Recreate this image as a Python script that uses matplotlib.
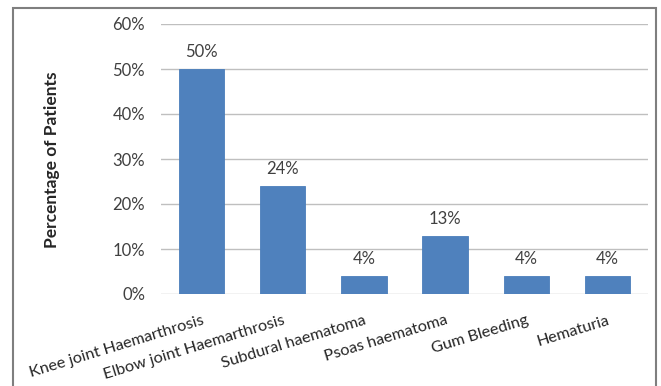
import matplotlib
matplotlib.use("Agg")
import matplotlib.pyplot as plt
from matplotlib.patches import Rectangle
from matplotlib.ticker import FuncFormatter

categories = ["Knee joint Haemarthrosis", "Elbow joint Haemarthrosis",
              "Subdural haematoma", "Psoas haematoma", "Gum Bleeding", "Hematuria"]
percentages = [50, 24, 4, 13, 4, 4]
y_ticks = [0, 10, 20, 30, 40, 50, 60]

plt.rcParams['font.family'] = ['Lato', 'DejaVu Sans']

fig = plt.figure(figsize=(6.61, 3.86), dpi=100)
ax = fig.add_axes([161 / 661, 1 - 294 / 386, (648 - 161) / 661, (294 - 24) / 386])

x = range(len(categories))
bars = ax.bar(x, percentages, width=0.56, color="#4f81bd", edgecolor="#4a7ebb",
              linewidth=0.6, zorder=3)
for xi, v in zip(x, percentages):
    ax.text(xi, v + 1.9, f"{v}%", ha="center", va="bottom", fontsize=12,
            color="#404040")

ax.set_ylim(0, 60)
ax.set_xlim(-0.5, len(categories) - 0.5)
ax.set_yticks(y_ticks)
ax.yaxis.set_major_formatter(FuncFormatter(lambda v, p: f"{int(v)}%"))
ax.grid(axis="y", color="#bfbfbf", linewidth=1.0, zorder=0)
ax.tick_params(axis="y", length=0, pad=11.5, labelsize=12, labelcolor="#404040")
ax.tick_params(axis="x", length=0, pad=14, labelsize=11.7, labelcolor="#262626")
ax.set_xticks(list(x))
ax.set_xticklabels(categories, rotation=17, ha="right", va="top",
                   rotation_mode="anchor")
for s in ax.spines.values():
    s.set_visible(False)

fig.text(52 / 661, 1 - 160 / 386, "Percentage of Patients", rotation=90,
         ha="center", va="center", fontsize=12.5, fontweight="bold",
         color="#262626")

fig.patches.append(Rectangle((13 / 661, -0.05), (656 - 13) / 661, 1.05 - 8 / 386,
                             transform=fig.transFigure, fill=False,
                             edgecolor="#7f7f7f", linewidth=1.5))

fig.savefig("out.png", dpi=100, facecolor="white")
